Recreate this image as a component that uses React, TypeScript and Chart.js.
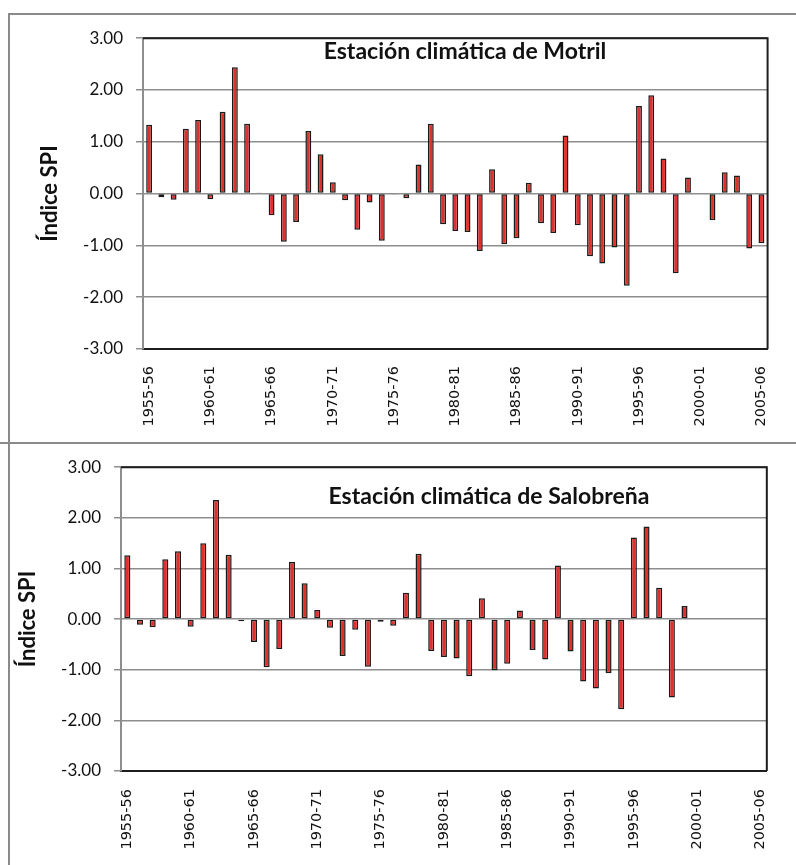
import React, { useEffect, useRef } from 'react';
import { Chart, registerables } from 'chart.js';

Chart.register(...registerables);

const categories = [
  '1955-56', '1956-57', '1957-58', '1958-59', '1959-60', '1960-61', '1961-62', '1962-63', '1963-64', '1964-65',
  '1965-66', '1966-67', '1967-68', '1968-69', '1969-70', '1970-71', '1971-72', '1972-73', '1973-74', '1974-75',
  '1975-76', '1976-77', '1977-78', '1978-79', '1979-80', '1980-81', '1981-82', '1982-83', '1983-84', '1984-85',
  '1985-86', '1986-87', '1987-88', '1988-89', '1989-90', '1990-91', '1991-92', '1992-93', '1993-94', '1994-95',
  '1995-96', '1996-97', '1997-98', '1998-99', '1999-00', '2000-01', '2001-02', '2002-03', '2003-04', '2004-05',
  '2005-06',
];

const tickLabels = ['1955-56', '1960-61', '1965-66', '1970-71', '1975-76', '1980-81', '1985-86', '1990-91', '1995-96', '2000-01', '2005-06'];

const motrilSPI = [
  1.33, -0.07, -0.12, 1.25, 1.42, -0.11, 1.58, 2.44, 1.35, 0.02,
  -0.42, -0.93, -0.55, 1.21, 0.76, 0.22, -0.13, -0.70, -0.17, -0.91,
  -0.01, -0.09, 0.56, 1.35, -0.59, -0.72, -0.74, -1.11, 0.47, -0.98,
  -0.86, 0.21, -0.57, -0.76, 1.12, -0.61, -1.21, -1.35, -1.04, -1.78,
  1.69, 1.90, 0.68, -1.54, 0.31, null, -0.51, 0.41, 0.35, -1.06,
  -0.96,
];

const salobrenaSPI = [
  1.26, -0.11, -0.16, 1.18, 1.34, -0.15, 1.50, 2.35, 1.27, -0.04,
  -0.45, -0.95, -0.59, 1.13, 0.71, 0.18, -0.17, -0.73, -0.21, -0.94,
  -0.05, -0.13, 0.52, 1.29, -0.63, -0.75, -0.78, -1.13, 0.41, -1.01,
  -0.88, 0.17, -0.61, -0.80, 1.06, -0.64, -1.23, -1.37, -1.07, -1.78,
  1.61, 1.83, 0.62, -1.55, 0.26, null, null, null, null, null,
  null,
];

const yMin = -3;
const yMax = 3;
const yStep = 1;

const titleMotril = 'Estación climática de Motril';
const titleSalobrena = 'Estación climática de Salobreña';
const yAxisTitle = 'Índice SPI';

const panelPlugin = {
  id: 'panelDecor',
  afterDraw(chart: any, _args: any, opts: any) {
    const { ctx, chartArea } = chart;
    ctx.save();
    ctx.strokeStyle = '#1e1e1e';
    ctx.lineWidth = 2;
    ctx.beginPath();
    ctx.moveTo(chartArea.left, chartArea.top);
    ctx.lineTo(chartArea.right, chartArea.top);
    ctx.lineTo(chartArea.right, chartArea.bottom);
    ctx.stroke();
    ctx.font = "bold 23px Lato, 'DejaVu Sans', sans-serif";
    ctx.fillStyle = '#111';
    ctx.textAlign = 'center';
    ctx.textBaseline = 'alphabetic';
    ctx.fillText(opts.text, opts.x, chartArea.top + opts.dy);
    ctx.restore();
  },
};

type PanelProps = {
  values: (number | null)[];
  title: string;
  titleX: number;
  titleDy: number;
  yAxisWidth: number;
  yTitlePad: number;
  padTop: number;
  padRight: number;
  xHeight: number;
  xPad: number;
  width: number;
  height: number;
  left: number;
  top: number;
};

function SpiPanel(p: PanelProps) {
  const ref = useRef<HTMLCanvasElement | null>(null);
  useEffect(() => {
    if (!ref.current) return;
    const chart = new Chart(ref.current, {
      type: 'bar',
      data: {
        labels: categories,
        datasets: [
          {
            data: p.values as any,
            backgroundColor: '#e0302b',
            borderColor: '#1a1a1a',
            borderWidth: 1.5,
            borderSkipped: false,
            categoryPercentage: 1,
            barPercentage: 0.48,
          },
        ],
      },
      options: {
        responsive: false,
        animation: false,
        devicePixelRatio: 1,
        layout: { padding: { top: p.padTop, right: p.padRight, left: 0, bottom: 0 } },
        plugins: {
          legend: { display: false },
          tooltip: { enabled: false },
          panelDecor: { text: p.title, x: p.titleX, dy: p.titleDy },
        } as any,
        scales: {
          x: {
            grid: { display: false, drawTicks: false },
            border: { display: true, color: '#1e1e1e', width: 2 },
            ticks: {
              autoSkip: false,
              maxRotation: 90,
              minRotation: 90,
              padding: p.xPad,
              color: '#111',
              font: { family: "'DejaVu Sans', Verdana, sans-serif", size: 14.5 },
              callback: (_v: any, i: number) => (tickLabels.includes(categories[i]) ? categories[i] : ''),
            },
            afterFit: (s: any) => {
              s.height = p.xHeight;
            },
          },
          y: {
            min: yMin,
            max: yMax,
            grid: { color: '#8e8e8e', lineWidth: 1.5, tickLength: 7, tickColor: '#8e8e8e' },
            border: { display: true, color: '#8e8e8e', width: 2 },
            ticks: {
              stepSize: yStep,
              padding: 13,
              color: '#111',
              font: { family: 'Lato', size: 17 },
              callback: (v: any) => Number(v).toFixed(2),
            },
            title: {
              display: true,
              text: yAxisTitle,
              color: '#111',
              font: { family: 'Lato', size: 22, weight: 'bold' },
              padding: { top: p.yTitlePad, bottom: 0 },
            },
            afterFit: (s: any) => {
              s.width = p.yAxisWidth;
            },
          },
        },
      },
      plugins: [panelPlugin],
    });
    return () => chart.destroy();
  }, []);
  return (
    <canvas
      ref={ref}
      width={p.width}
      height={p.height}
      style={{ position: 'absolute', left: p.left, top: p.top, width: p.width, height: p.height }}
    />
  );
}

export default function App() {
  const line = '#8a8a8a';
  return (
    <div style={{ position: 'absolute', left: 0, top: 0, width: 796, height: 865, background: '#fff', overflow: 'hidden' }}>
      <div style={{ position: 'absolute', left: 8, top: 13, width: 788, height: 2, background: line }} />
      <div style={{ position: 'absolute', left: 8, top: 13, width: 2, height: 852, background: line }} />
      <div style={{ position: 'absolute', left: 0, top: 442, width: 796, height: 2, background: line }} />
      <SpiPanel
        values={motrilSPI}
        title={titleMotril}
        titleX={455}
        titleDy={21}
        yAxisWidth={133}
        yTitlePad={27}
        padTop={22}
        padRight={14}
        xHeight={93}
        xPad={17}
        width={786}
        height={427}
        left={10}
        top={15}
      />
      <SpiPanel
        values={salobrenaSPI}
        title={titleSalobrena}
        titleX={479}
        titleDy={37}
        yAxisWidth={111}
        yTitlePad={5}
        padTop={12}
        padRight={11}
        xHeight={94}
        xPad={18}
        width={786}
        height={421}
        left={10}
        top={444}
      />
    </div>
  );
}
